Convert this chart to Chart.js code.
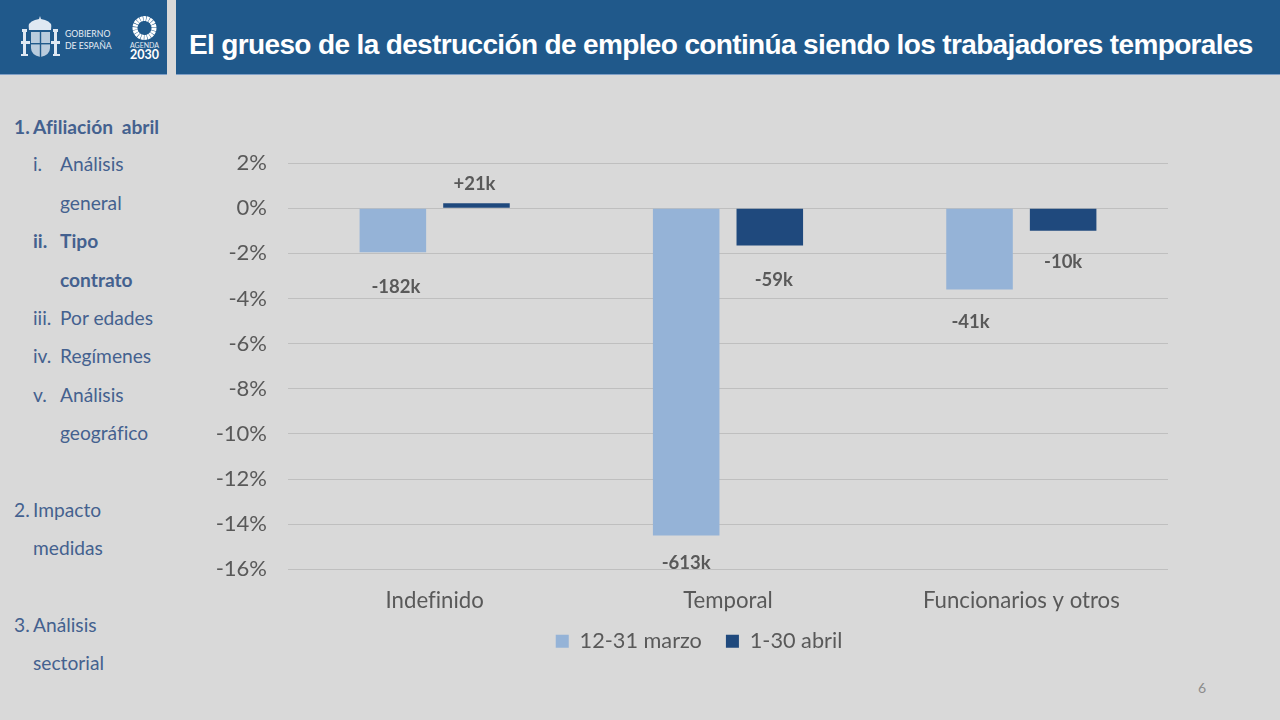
<!DOCTYPE html>
<html lang="es">
<head>
<meta charset="utf-8">
<title>Destrucción de empleo por tipo de contrato</title>
<script src="https://cdn.jsdelivr.net/npm/chart.js@4"></script>
<style>
  html, body { margin: 0; padding: 0; }
  body { width: 1280px; height: 720px; background: #d9d9d9; overflow: hidden; position: relative; font-family: Lato, sans-serif; font-variant-ligatures: none; }
  .band { position: absolute; top: 0; height: 74px; background: #20598b; border-bottom: 1px solid #7f9fc6; }
  #logoBand { left: 0; width: 167px; }
  #titleBand { left: 176px; width: 1104px; }
  #title { position: absolute; left: 13px; top: 26px; margin: 0; color: #fff; white-space: nowrap; font: bold 28px "Liberation Sans", sans-serif; letter-spacing: -0.64px; line-height: 38px; }
  #logoBand svg { position: absolute; left: 0; top: 0; }
  .navRow { position: absolute; color: #44618f; font-size: 19.2px; line-height: 22px; white-space: nowrap; }
  .navRow.on { font-weight: bold; word-spacing: 4px; }
  #chartBox { position: absolute; left: 200px; top: 140px; width: 980px; height: 527px; }
  #pageNo { position: absolute; left: 1198px; top: 679px; font-size: 14px; color: #8c8c8c; }
</style>
</head>
<body>
<div class="band" id="logoBand">
  <svg width="167" height="74" viewBox="0 0 167 74">
    <g fill="#dfe8f2">
      <path d="M29 30 q-2 -8 6 -10 l4 -1 1 -3 1 3 4 1 q8 2 6 10 z"/>
      <rect x="22" y="29" width="5" height="3"/>
      <rect x="53" y="29" width="5" height="3"/>
      <rect x="23" y="32" width="3" height="24"/>
      <rect x="54" y="32" width="3" height="24"/>
      <rect x="21" y="41" width="9" height="3"/>
      <rect x="51" y="41" width="9" height="3"/>
      <rect x="21" y="54" width="7" height="2"/>
      <rect x="53" y="54" width="7" height="2"/>
      <path d="M31 32 h19 v16 q0 7 -9.500 9 q-9.500 -2 -9.500 -9 z" fill="#b9cbdd"/>
      <rect x="39.800" y="32" width="1.400" height="25" fill="#20598b"/>
      <rect x="31" y="43" width="19" height="1.400" fill="#20598b"/>
    </g>
    <text x="65" y="37" fill="#e6edf5" font-family="Lato" font-size="8.700">GOBIERNO</text>
    <text x="65" y="49" fill="#e6edf5" font-family="Lato" font-size="8.700">DE ESPAÑA</text>
    <circle cx="144.500" cy="28" r="9.500" fill="none" stroke="#fff" stroke-width="5" stroke-dasharray="2.600 0.500"/>
    <text x="144.500" y="48" fill="#e6edf5" font-family="Lato" font-size="7" text-anchor="middle">AGENDA</text>
    <text x="144.500" y="59" fill="#fff" font-family="Lato" font-weight="bold" font-size="12.500" text-anchor="middle">2030</text>
  </svg>
</div>
<div class="band" id="titleBand">
  <h1 id="title">El grueso de la destrucción de empleo continúa siendo los trabajadores temporales</h1>
</div>
<div id="nav"></div>
<div id="chartBox"><canvas id="chart"></canvas></div>
<div id="pageNo">6</div>

<script>
const categories = ['Indefinido', 'Temporal', 'Funcionarios y otros'];
const seriesNames = ['12-31 marzo', '1-30 abril'];
const marzoValues = [-1.95, -14.5, -3.6];
const abrilValues = [0.22, -1.65, -1.0];
const marzoLabels = ['-182k', '-613k', '-41k'];
const abrilLabels = ['+21k', '-59k', '-10k'];
const yTicks = [2, 0, -2, -4, -6, -8, -10, -12, -14, -16];

// text, bold, left, middle of the line
const navItems = [
  ['1.', true, 14, 127], ['Afiliación abril', true, 33, 127],
  ['i.', false, 33, 164], ['Análisis', false, 60, 164],
  ['general', false, 60, 203],
  ['ii.', true, 33, 241], ['Tipo', true, 60, 241],
  ['contrato', true, 60, 280],
  ['iii.', false, 33, 318], ['Por edades', false, 60, 318],
  ['iv.', false, 33, 356], ['Regímenes', false, 60, 356],
  ['v.', false, 33, 395], ['Análisis', false, 60, 395],
  ['geográfico', false, 60, 433],
  ['2.', false, 14, 510], ['Impacto', false, 33, 510],
  ['medidas', false, 33, 548],
  ['3.', false, 14, 625], ['Análisis', false, 33, 625],
  ['sectorial', false, 33, 663]
];
const nav = document.getElementById('nav');
navItems.forEach(([text, bold, left, mid]) => {
  const row = document.createElement('div');
  row.className = bold ? 'navRow on' : 'navRow';
  row.textContent = text;
  row.style.left = left + 'px';
  row.style.top = (mid - 11) + 'px';
  nav.appendChild(row);
});

// the data labels sit by hand in the original, so each one has its own nudge
const labelNudges = [
  [[3, 35], [0, 28], [-9, 33]],
  [[-2, -19], [4, 35], [0, 31]]
];

const barLabels = {
  id: 'barLabels',
  afterDatasetsDraw(chart) {
    const ctx = chart.ctx;
    ctx.save();
    ctx.font = 'bold 18.5px Lato';
    ctx.fillStyle = '#595959';
    ctx.textAlign = 'center';
    ctx.textBaseline = 'middle';
    [marzoLabels, abrilLabels].forEach((labels, d) => {
      chart.getDatasetMeta(d).data.forEach((bar, i) => {
        const [dx, dy] = labelNudges[d][i];
        ctx.fillText(labels[i], bar.x + dx, bar.y + dy);
      });
    });
    ctx.restore();
  }
};

// legend is not centred on the canvas in the original and sits closer to the axis
const legendShift = {
  id: 'legendShift',
  afterLayout(chart) {
    chart.legend.left += 15;
    chart.legend.right += 15;
    chart.legend.top -= 5;
    chart.legend.bottom -= 5;
  }
};

new Chart(document.getElementById('chart'), {
  type: 'bar',
  data: {
    labels: categories,
    datasets: [
      { label: seriesNames[0], data: marzoValues, backgroundColor: '#95b3d7' },
      { label: seriesNames[1], data: abrilValues, backgroundColor: '#1f497d' }
    ]
  },
  options: {
    responsive: true,
    maintainAspectRatio: false,
    animation: false,
    categoryPercentage: 0.57,
    barPercentage: 0.796,
    layout: { padding: { top: 23, right: 12 } },
    scales: {
      x: {
        grid: { display: false },
        border: { display: false },
        ticks: { color: '#595959', font: { family: 'Lato', size: 22.2 }, padding: 10 },
        afterFit(scale) {
          scale.height = 42;
          scale.paddingLeft = 0;
          scale.paddingRight = 0;
        }
      },
      y: {
        min: -16,
        max: 2,
        afterBuildTicks(scale) { scale.ticks = yTicks.map(value => ({ value })); },
        grid: { color: '#bfbfbf', drawTicks: false },
        border: { display: false },
        ticks: {
          color: '#595959',
          font: { family: 'Lato', size: 22 },
          padding: 21,
          callback: value => value + '%'
        },
        afterFit(scale) {
          scale.width = 88;
          scale.paddingTop = 0;
          scale.paddingBottom = 0;
        }
      }
    },
    plugins: {
      tooltip: { enabled: false },
      legend: {
        position: 'bottom',
        labels: {
          color: '#595959',
          font: { family: 'Lato', size: 21.7 },
          boxWidth: 13,
          boxHeight: 13,
          padding: 24
        }
      }
    }
  },
  plugins: [barLabels, legendShift]
});
</script>
</body>
</html>
